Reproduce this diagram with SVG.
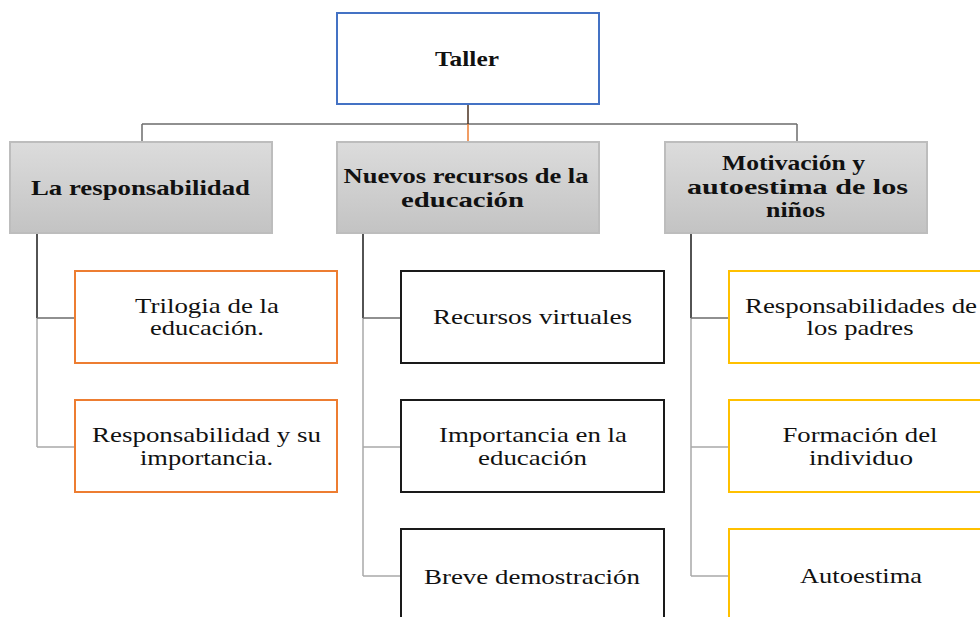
<svg xmlns="http://www.w3.org/2000/svg" width="980" height="617" viewBox="0 0 980 617">
<defs>
<linearGradient id="g" x1="0" y1="0" x2="0" y2="1">
<stop offset="0" stop-color="#dcdcdc"/>
<stop offset="1" stop-color="#c3c3c3"/>
</linearGradient>
<style>
text{font-family:"Liberation Serif","Times New Roman",serif;fill:#111;text-anchor:middle}
.b{font-weight:bold;font-size:22px}
.r{font-size:21px}
.root{fill:#fff;stroke:#4472c4;stroke-width:2}
.l1{fill:url(#g);stroke:#bdbdbd;stroke-width:2}
.or{fill:#fff;stroke:#ed7d31;stroke-width:2}
.dk{fill:#fff;stroke:#1a1a1a;stroke-width:2}
.ye{fill:#fff;stroke:#ffc000;stroke-width:2}
.c1{stroke:#1a1a1a;stroke-width:1.5;fill:none}
.c2{stroke:#6b6b6b;stroke-width:1.5;fill:none}
.c3{stroke:#a8a8a8;stroke-width:1.5;fill:none}
</style>
</defs>
<rect width="980" height="617" fill="#fff"/>
<g id="connectors">
<line class="c2" x1="142" y1="124" x2="797" y2="124"/>
<line class="c2" x1="142" y1="124" x2="142" y2="142"/>
<line class="c2" x1="797" y1="124" x2="797" y2="142"/>
<line stroke="#4a3020" stroke-width="1.5" x1="468" y1="104" x2="468" y2="124"/>
<line stroke="#ed7d31" stroke-width="1.5" x1="468" y1="124" x2="468" y2="142"/>
<line class="c1" x1="37" y1="233" x2="37" y2="318"/>
<line class="c3" x1="37" y1="318" x2="37" y2="447"/>
<line class="c2" x1="37" y1="318" x2="75" y2="318"/>
<line class="c3" x1="37" y1="447" x2="75" y2="447"/>
<line class="c1" x1="363" y1="233" x2="363" y2="318"/>
<line class="c3" x1="363" y1="318" x2="363" y2="576"/>
<line class="c2" x1="363" y1="318" x2="401" y2="318"/>
<line class="c3" x1="363" y1="447" x2="401" y2="447"/>
<line class="c3" x1="363" y1="576" x2="401" y2="576"/>
<line class="c1" x1="691" y1="233" x2="691" y2="318"/>
<line class="c3" x1="691" y1="318" x2="691" y2="576"/>
<line class="c2" x1="691" y1="318" x2="729" y2="318"/>
<line class="c3" x1="691" y1="447" x2="729" y2="447"/>
<line class="c3" x1="691" y1="576" x2="729" y2="576"/>
</g>
<g id="taller">
<rect class="root" x="337" y="13" width="262" height="91"/>
<text class="b" x="467" y="66" font-size="24" textLength="64" lengthAdjust="spacingAndGlyphs">Taller</text>
</g>
<g id="responsabilidad">
<rect class="l1" x="10" y="142" width="262" height="91"/>
<text class="b" x="140.5" y="195" textLength="219" lengthAdjust="spacingAndGlyphs">La responsabilidad</text>
</g>
<g id="nuevos">
<rect class="l1" x="337" y="142" width="262" height="91"/>
<text class="b" x="466" y="182.5" textLength="245" lengthAdjust="spacingAndGlyphs">Nuevos recursos de la</text>
<text class="b" x="462.5" y="206.5" textLength="123" lengthAdjust="spacingAndGlyphs">educación</text>
</g>
<g id="motivacion">
<rect class="l1" x="665" y="142" width="262" height="91"/>
<text class="b" x="793.5" y="170" textLength="143" lengthAdjust="spacingAndGlyphs">Motivación y</text>
<text class="b" x="797.5" y="193.5" textLength="221" lengthAdjust="spacingAndGlyphs">autoestima de los</text>
<text class="b" x="795.5" y="217" textLength="59" lengthAdjust="spacingAndGlyphs">niños</text>
</g>
<g id="trilogia">
<rect class="or" x="75" y="271" width="262" height="92"/>
<text class="r" x="207" y="312.5" textLength="144" lengthAdjust="spacingAndGlyphs">Trilogia de la</text>
<text class="r" x="207" y="335" textLength="114" lengthAdjust="spacingAndGlyphs">educación.</text>
</g>
<g id="resp-importancia">
<rect class="or" x="75" y="400" width="262" height="92"/>
<text class="r" x="206.5" y="441.5" textLength="229" lengthAdjust="spacingAndGlyphs">Responsabilidad y su</text>
<text class="r" x="206.5" y="465" textLength="133" lengthAdjust="spacingAndGlyphs">importancia.</text>
</g>
<g id="recursos-virtuales">
<rect class="dk" x="401" y="271" width="263" height="92"/>
<text class="r" x="532.5" y="323.5" textLength="199" lengthAdjust="spacingAndGlyphs">Recursos virtuales</text>
</g>
<g id="importancia">
<rect class="dk" x="401" y="400" width="263" height="92"/>
<text class="r" x="533" y="441.5" textLength="188" lengthAdjust="spacingAndGlyphs">Importancia en la</text>
<text class="r" x="532.5" y="465" textLength="109" lengthAdjust="spacingAndGlyphs">educación</text>
</g>
<g id="breve">
<rect class="dk" x="401" y="529" width="263" height="100"/>
<text class="r" x="532" y="583.5" textLength="216" lengthAdjust="spacingAndGlyphs">Breve demostración</text>
</g>
<g id="resp-padres">
<rect class="ye" x="729" y="271" width="264" height="92"/>
<text class="r" x="861" y="312.5" textLength="232" lengthAdjust="spacingAndGlyphs">Responsabilidades de</text>
<text class="r" x="860" y="335" textLength="107" lengthAdjust="spacingAndGlyphs">los padres</text>
</g>
<g id="formacion">
<rect class="ye" x="729" y="400" width="264" height="92"/>
<text class="r" x="860" y="441.5" textLength="155" lengthAdjust="spacingAndGlyphs">Formación del</text>
<text class="r" x="861" y="465" textLength="104" lengthAdjust="spacingAndGlyphs">individuo</text>
</g>
<g id="autoestima">
<rect class="ye" x="729" y="529" width="264" height="100"/>
<text class="r" x="861" y="583" textLength="122" lengthAdjust="spacingAndGlyphs">Autoestima</text>
</g>
</svg>
